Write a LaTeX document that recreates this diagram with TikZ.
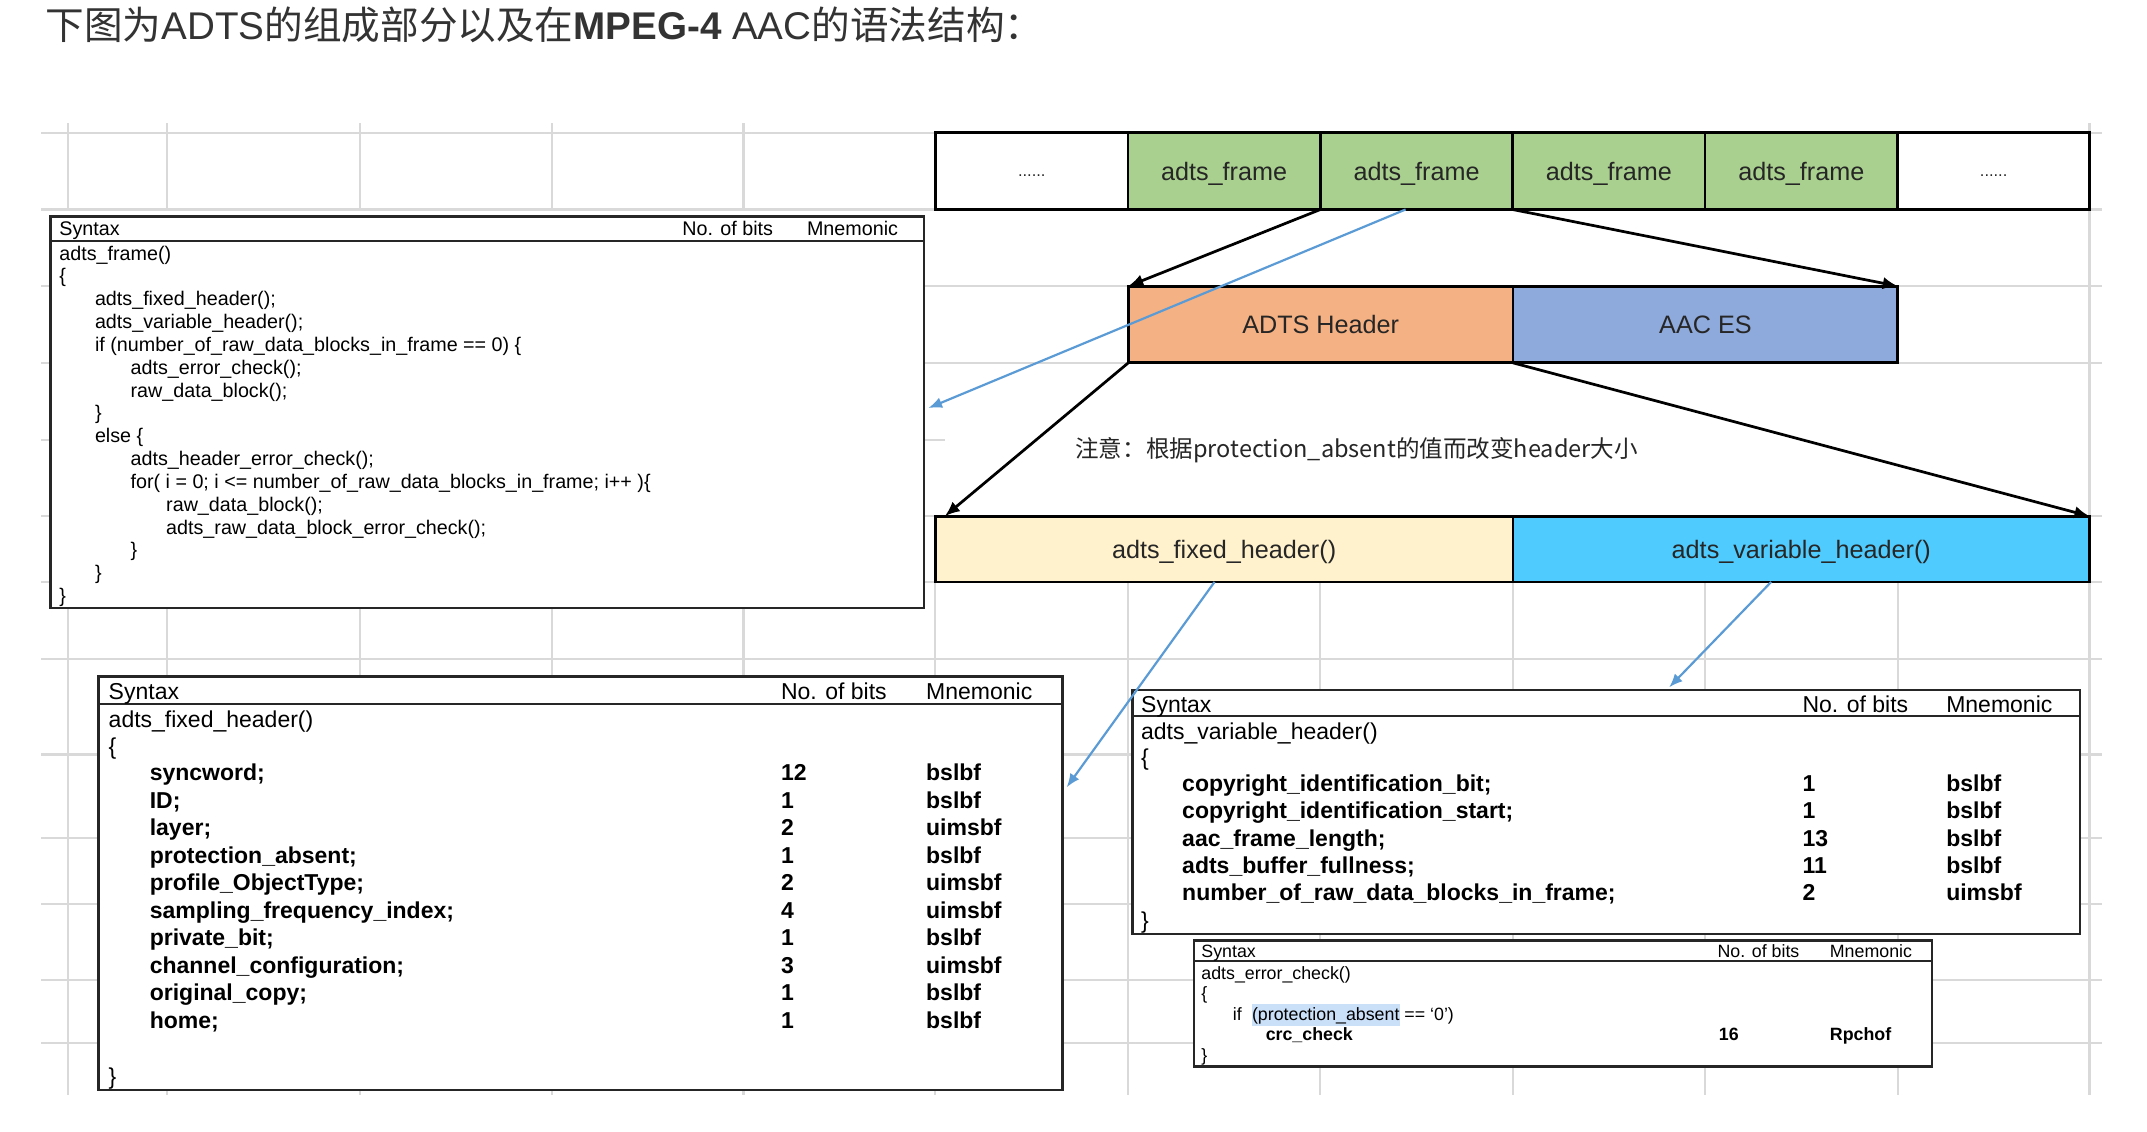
\documentclass[tikz,border=0pt]{standalone}
\usepackage{fontspec}
\setmainfont{Liberation Sans}
\newfontfamily\cjk{Noto Sans CJK SC}
\usetikzlibrary{arrows.meta}
\definecolor{gridc}{HTML}{D9D9D9}
\definecolor{fgreen}{HTML}{A9D08E}
\definecolor{forange}{HTML}{F4B183}
\definecolor{fblue}{HTML}{8EA9DB}
\definecolor{fyellow}{HTML}{FFF2CC}
\definecolor{fcyan}{HTML}{4FCBFE}
\definecolor{arrblue}{HTML}{5B9BD5}
\definecolor{hl}{HTML}{CADFF8}
\definecolor{titlec}{HTML}{333333}
\begin{document}
\begin{tikzpicture}[x=0.5pt,y=-0.5pt,
  gridl/.style={draw=gridc, line width=0.75pt},
  cell/.style={draw=black, line width=1pt, inner sep=0pt, outer sep=0pt, minimum height=28pt, text=black!85, text height=6.7pt, text depth=0pt, font=\fontsize{9.2pt}{11pt}\selectfont},
  tbl/.style={draw=black!85, line width=0.9pt, fill=white, inner sep=0pt, outer sep=0pt},
  tsep/.style={draw=black!85, line width=0.9pt},
  tA/.style={anchor=base west, inner sep=0pt, font=\fontsize{7.2pt}{8.6pt}\selectfont},
  tB/.style={anchor=base west, inner sep=0pt, font=\fontsize{8.4pt}{10pt}\selectfont},
  tBb/.style={anchor=base west, inner sep=0pt, font=\fontsize{8.4pt}{10pt}\selectfont\bfseries},
  tC/.style={anchor=base west, inner sep=0pt, font=\fontsize{6.5pt}{7.8pt}\selectfont},
  tCb/.style={anchor=base west, inner sep=0pt, font=\fontsize{6.5pt}{7.8pt}\selectfont\bfseries},
  blk/.style={draw=black, line width=1pt, -{Latex[length=5.5pt,width=4.5pt]}},
  blu/.style={draw=arrblue, line width=0.8pt, -{Latex[length=5pt,width=4pt]}},
]
\useasboundingbox (0,0) rectangle (1568,826);
\fill[white] (0,0) rectangle (1568,826);

% background grid
\foreach \y in {97,153,209,265,377,425,481,551,612,660,716,762} \draw[gridl] (30,\y) -- (1535,\y);
\draw[gridl] (30,321) -- (690,321);
\foreach \x in {50,122,263,403,543} \draw[gridl] (\x,90) -- (\x,153);
\foreach \x in {50,122,263,403,543,683,824,964,1105,1245,1386,1526} \draw[gridl] (\x,425) -- (\x,800);
\draw[gridl] (1526,90) -- (1526,800);

% title
\node[anchor=base west, inner sep=0pt, text=titlec, font=\fontsize{14.1pt}{16pt}\selectfont] (title) at (33,29)
  {{\cjk 下图为}ADTS{\cjk 的组成部分以及在}\textbf{MPEG-4} AAC{\cjk 的语法结构：}};

% frame row
\node[cell, minimum width=70.25pt, font=\fontsize{6pt}{7pt}\selectfont, text height=4pt] (d1) at (753.5,125) {......};
\node[cell, fill=fgreen, minimum width=70.25pt] (f1) at (894,125) {adts\_frame};
\node[cell, fill=fgreen, minimum width=70.25pt] (f2) at (1034.5,125) {adts\_frame};
\node[cell, fill=fgreen, minimum width=70.25pt] (f3) at (1175,125) {adts\_frame};
\node[cell, fill=fgreen, minimum width=70.25pt] (f4) at (1315.5,125) {adts\_frame};
\node[cell, minimum width=70.25pt, font=\fontsize{6pt}{7pt}\selectfont, text height=4pt] (d2) at (1456,125) {......};

% header / ES
\node[cell, fill=forange, minimum width=140.5pt] (hdr) at (964.5,237) {ADTS Header};
\node[cell, fill=fblue, minimum width=140.5pt] (aac) at (1245.5,237) {AAC ES};

% fixed / variable
\node[cell, fill=fyellow, minimum width=211pt, minimum height=24pt] (fix) at (894,401) {adts\_fixed\_header()};
\node[cell, fill=fcyan, minimum width=210.5pt, minimum height=24pt] (var) at (1315.5,401) {adts\_variable\_header()};

% note
\node[anchor=west, inner sep=0pt, text=black!85, font=\cjk\fontsize{8.6pt}{10pt}\selectfont] (note) at (785,329)
  {注意：根据protection\_absent的值而改变header大小};

% table 1: adts_frame
\node[tbl, minimum width=319pt, minimum height=143pt] (tab1) at (356,301) {};
\draw[tsep] (37,176) -- (675,176);
\node[tA] (h1a) at (43,172) {Syntax};
\node[tA] (h1b) at (498,172) {No. of bits};
\node[tA] (h1c) at (589,172) {Mnemonic};
\foreach \i/\l/\txt in {
  0/0/adts\_frame(),
  1/0/\{,
  2/1/adts\_fixed\_header();,
  3/1/adts\_variable\_header();,
  4/1/if (number\_of\_raw\_data\_blocks\_in\_frame == 0) \{,
  5/2/adts\_error\_check();,
  6/2/raw\_data\_block();,
  7/1/\},
  8/1/else \{,
  9/2/adts\_header\_error\_check();,
  10/2/for( i = 0; i <= number\_of\_raw\_data\_blocks\_in\_frame; i++ )\{,
  11/3/raw\_data\_block();,
  12/3/adts\_raw\_data\_block\_error\_check();,
  13/2/\},
  14/1/\},
  15/0/\}}
  \node[tA] (a\i) at (43+26*\l, 190+16.67*\i) {\txt};

% table 2: adts_fixed_header
\node[tbl, minimum width=352pt, minimum height=151pt] (tab2) at (424,645) {};
\draw[tsep] (72,514) -- (776,514);
\node[tB] (h2a) at (79,511) {Syntax};
\node[tB] (h2b) at (570,511) {No. of bits};
\node[tB] (h2c) at (676,511) {Mnemonic};
\node[tB] (b0) at (79,531) {adts\_fixed\_header()};
\node[tB] (b1) at (79,551) {\{};
\node[tB] (b2) at (79,792) {\}};
\foreach \i/\n/\b/\m in {
  0/syncword;/12/bslbf,
  1/ID;/1/bslbf,
  2/layer;/2/uimsbf,
  3/protection\_absent;/1/bslbf,
  4/profile\_ObjectType;/2/uimsbf,
  5/sampling\_frequency\_index;/4/uimsbf,
  6/private\_bit;/1/bslbf,
  7/channel\_configuration;/3/uimsbf,
  8/original\_copy;/1/bslbf,
  9/home;/1/bslbf}
{
  \node[tBb] (fn\i) at (109, 570+20.1*\i) {\n};
  \node[tBb] (fb\i) at (570, 570+20.1*\i) {\b};
  \node[tBb] (fm\i) at (676, 570+20.1*\i) {\m};
}

% table 3: adts_variable_header
\node[tbl, minimum width=346pt, minimum height=89pt] (tab3) at (1173,593) {};
\draw[tsep] (827,523) -- (1519,523);
\node[tB] (h3a) at (833,520) {Syntax};
\node[tB] (h3b) at (1316,520) {No. of bits};
\node[tB] (h3c) at (1421,520) {Mnemonic};
\node[tB] (c0) at (833,540) {adts\_variable\_header()};
\node[tB] (c1) at (833,559) {\{};
\node[tB] (c2) at (833,678) {\}};
\foreach \i/\n/\b/\m in {
  0/copyright\_identification\_bit;/1/bslbf,
  1/copyright\_identification\_start;/1/bslbf,
  2/aac\_frame\_length;/13/bslbf,
  3/adts\_buffer\_fullness;/11/bslbf,
  4/number\_of\_raw\_data\_blocks\_in\_frame;/2/uimsbf}
{
  \node[tBb] (vn\i) at (863, 578+20*\i) {\n};
  \node[tBb] (vb\i) at (1316, 578+20*\i) {\b};
  \node[tBb] (vm\i) at (1421, 578+20*\i) {\m};
}

% table 4: adts_error_check
\node[tbl, minimum width=269.5pt, minimum height=46pt] (tab4) at (1141.5,733) {};
\draw[tsep] (872,702) -- (1411,702);
\node[tC] (h4a) at (877,699) {Syntax};
\node[tC] (h4b) at (1254,699) {No. of bits};
\node[tC] (h4c) at (1336,699) {Mnemonic};
\node[tC] (e0) at (877,715) {adts\_error\_check()};
\node[tC] (e1) at (877,730) {\{};
\node[fill=hl, inner sep=0pt, minimum width=54pt, minimum height=8pt, anchor=north west] (hlb) at (914,733) {};
\node[tC] (e2) at (900,745) {if};
\node[tC] (e3) at (914,745) {(protection\_absent == ‘0’)};
\node[tCb] (e4) at (924,760) {crc\_check};
\node[tCb] (e5) at (1255,760) {16};
\node[tCb] (e6) at (1336,760) {Rpchof};
\node[tC] (e7) at (877,775) {\}};

% black arrows
\draw[blk] (f2.south west) -- (hdr.north west);
\draw[blk] (f2.south east) -- (aac.north east);
\draw[blk] (hdr.south west) -- ([xshift=3.5pt]fix.north west);
\draw[blk] (hdr.south east) -- (var.north east);

% blue arrows
\draw[blu] ([xshift=-4pt]f2.south) -- ([xshift=1.5pt,yshift=1.5pt]tab1.east);
\draw[blu] ([xshift=-3.5pt]fix.south) -- ([xshift=1.5pt,yshift=-40.5pt]tab2.north east);
\draw[blu] ([xshift=-11pt]var.south) -- ([xshift=23pt,yshift=1pt]tab3.north);
\end{tikzpicture}
\end{document}
